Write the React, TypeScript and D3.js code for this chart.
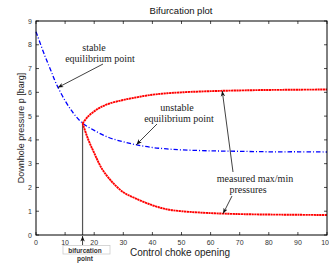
import * as d3 from 'd3';

type Pt = [number, number];

// values: [choke opening %, pressure barg]
const stableBranch: Pt[] = [
  [0, 8.55], [3, 7.55], [5, 6.95], [7, 6.35], [10, 5.65], [13, 5.1], [16, 4.7],
  [20, 4.4], [25, 4.1], [30, 3.92], [35, 3.78], [40, 3.68], [45, 3.62], [50, 3.58],
  [60, 3.54], [70, 3.52], [80, 3.5], [90, 3.5], [100, 3.49],
];
const upperBranch: Pt[] = [
  [16, 4.7], [18, 5.0], [20, 5.2], [22, 5.36], [25, 5.52], [30, 5.68], [35, 5.8],
  [40, 5.9], [45, 5.96], [50, 6.0], [60, 6.05], [70, 6.08], [80, 6.1], [90, 6.11], [100, 6.12],
];
const lowerBranch: Pt[] = [
  [16, 4.7], [18, 4.0], [20, 3.45], [22.5, 2.82], [26, 2.25], [30, 1.8], [34, 1.55],
  [40, 1.25], [45, 1.08], [50, 1.0], [60, 0.92], [70, 0.88], [80, 0.86], [90, 0.85], [100, 0.84],
];
const bifurcation: Pt = [16, 4.7];
const xTicks = [0, 10, 20, 30, 40, 50, 60, 70, 80, 90, 100];
const yTicks = [0, 1, 2, 3, 4, 5, 6, 7, 8, 9];

const width = 329;
const height = 264;
const margin = { top: 21, right: 2, bottom: 29, left: 36 };

export default function App() {
  const x = d3.scaleLinear().domain([0, 100]).range([margin.left, width - margin.right]);
  const y = d3.scaleLinear().domain([0, 9]).range([height - margin.bottom, margin.top]);
  const line = d3
    .line<Pt>()
    .x((d) => x(d[0]))
    .y((d) => y(d[1]))
    .curve(d3.curveCatmullRom);

  const [x0, x1] = x.range();
  const [y0, y1] = y.range();
  const bx = x(bifurcation[0]);
  const by = y(bifurcation[1]);
  const serif = '"Liberation Serif", "DejaVu Serif", serif';
  const sans = '"Liberation Sans", Arial, sans-serif';

  return (
    <div style={{ position: 'fixed', left: 0, top: 0 }}>
      <svg width={width} height={height} style={{ display: 'block', background: '#fff' }}>
        <defs>
          <marker id="arr" viewBox="0 0 10 10" refX="10" refY="5" markerWidth="7" markerHeight="7" orient="auto-start-reverse">
            <path d="M0,1 L10,5 L0,9 L3,5 Z" fill="#111" />
          </marker>
        </defs>

        <text x={181} y={14} textAnchor="middle" fontFamily={sans} fontSize={9.5} fill="#111">
          Bifurcation plot
        </text>

        {/* ticks, inward on all sides */}
        {xTicks.map((t) => (
          <g key={`x${t}`}>
            <line x1={x(t)} x2={x(t)} y1={y0} y2={y0 - 3} stroke="#000" strokeWidth={0.7} />
            <line x1={x(t)} x2={x(t)} y1={y1} y2={y1 + 3} stroke="#000" strokeWidth={0.7} />
            <text x={x(t)} y={y0 + 10} textAnchor="middle" fontFamily={sans} fontSize={7} fill="#333">
              {t}
            </text>
          </g>
        ))}
        {yTicks.map((t) => (
          <g key={`y${t}`}>
            <line x1={x0} x2={x0 + 3} y1={y(t)} y2={y(t)} stroke="#000" strokeWidth={0.7} />
            <line x1={x1} x2={x1 - 3} y1={y(t)} y2={y(t)} stroke="#000" strokeWidth={0.7} />
            <text x={x0 - 4} y={y(t) + 2.5} textAnchor="end" fontFamily={sans} fontSize={7} fill="#333">
              {t}
            </text>
          </g>
        ))}

        <text x={180} y={256} textAnchor="middle" fontFamily={sans} fontSize={10} fill="#222">
          Control choke opening
        </text>
        <text
          transform={`translate(24,${(y0 + y1) / 2}) rotate(-90)`}
          textAnchor="middle"
          fontFamily={sans}
          fontSize={9}
          fill="#222"
        >
          Downhole pressure p [barg]
        </text>

        {/* bifurcation marker line */}
        <line x1={bx} x2={bx} y1={by} y2={y0} stroke="#555" strokeWidth={1.2} />

        <path d={line(stableBranch) ?? ''} fill="none" stroke="#0000ff" strokeWidth={1.3} strokeDasharray="4.5 2 1 2" />
        <path d={line(upperBranch) ?? ''} fill="none" stroke="#ff0000" strokeWidth={1.9} strokeDasharray="2.2 0.5" />
        <path d={line(lowerBranch) ?? ''} fill="none" stroke="#ff0000" strokeWidth={1.9} strokeDasharray="2.2 0.5" />

        <rect x={x0} y={y1} width={x1 - x0} height={y0 - y1} fill="none" stroke="#000" strokeWidth={1} />

        {/* annotations */}
        <g fontFamily={serif} fontSize={10} fill="#222" textAnchor="middle">
          <text x={94} y={51}>stable</text>
          <text x={100} y={62}>equilibrium point</text>
          <text x={177} y={111}>unstable</text>
          <text x={179} y={122}>equilibrium point</text>
          <text x={255} y={182}>measured max/min</text>
          <text x={248} y={193}>pressures</text>
        </g>
        <g stroke="#111" strokeWidth={0.8} fill="none">
          <line x1={103} y1={64} x2={x(7.5)} y2={y(6.2)} markerEnd="url(#arr)" />
          <line x1={157} y1={124} x2={x(34.5)} y2={y(3.8)} markerEnd="url(#arr)" />
          <line x1={233} y1={172} x2={x(64)} y2={y(6.06)} markerEnd="url(#arr)" />
          <line x1={232} y1={196} x2={x(64.3)} y2={y(0.9)} markerEnd="url(#arr)" />
          <line x1={bx} y1={245} x2={bx} y2={y0 + 1} markerEnd="url(#arr)" />
        </g>

        <rect x={63} y={245.5} width={47} height={8.5} fill="none" stroke="#ccc" strokeWidth={0.8} />
        <g fontFamily={sans} fontSize={6.5} fontWeight="bold" fill="#333" textAnchor="middle">
          <text x={85} y={252.5}>bifurcation</text>
          <text x={85} y={260.5}>point</text>
        </g>
      </svg>
    </div>
  );
}
